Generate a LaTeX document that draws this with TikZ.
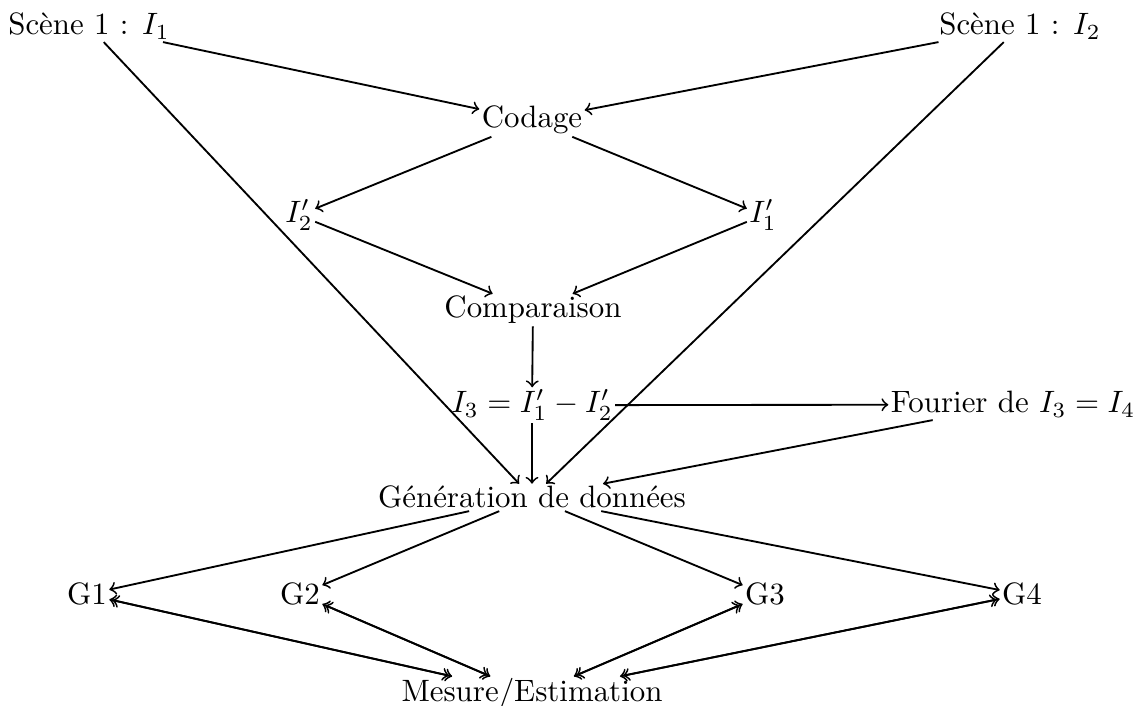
\documentclass[tikz,border=0pt]{standalone}
\begin{document}
\begin{tikzpicture}[x=0.3236pt,y=-0.3236pt,line width=0.6pt,
  lbl/.style={anchor=base,inner sep=0.5pt},
  arr/.style={->},
  dbl/.style={<->}]
\useasboundingbox (0,0) rectangle (1144,706);
\node[lbl] (s1) at (89,35) {Scène 1 : $I_1$};
\node[lbl] (s2) at (1020,35) {Scène 1 : $I_2$};
\node[lbl] (cod) at (532,128) {Codage};
\node[lbl] (i2) at (299,223) {$I_2'$};
\node[lbl] (i1) at (763,223) {$I_1'$};
\node[lbl] (cmp) at (533,318) {Comparaison};
\node[lbl] (i3) at (532,413) {$I_3 = I_1' - I_2'$};
\node[lbl] (four) at (1013,413) {Fourier de $I_3 = I_4$};
\node[lbl] (gen) at (532,508) {Génération de données};
\node[lbl] (g1) at (87,605) {G1};
\node[lbl] (g2) at (300,605) {G2};
\node[lbl] (g3) at (765,605) {G3};
\node[lbl] (g4) at (1022,605) {G4};
\node[lbl] (m) at (532,702) {Mesure/Estimation};

\draw[arr] (s1) -- (cod);
\draw[arr] (s2) -- (cod);
\draw[arr] (s1) -- (gen);
\draw[arr] (s2) -- (gen);
\draw[arr] (cod) -- (i2);
\draw[arr] (cod) -- (i1);
\draw[arr] (i2) -- (cmp);
\draw[arr] (i1) -- (cmp);
\draw[arr] (cmp) -- (i3);
\draw[arr] (i3) -- (gen);
\draw[arr] (i3) -- (four);
\draw[arr] (four) -- (gen);
\draw[arr] (gen) -- (g1);
\draw[arr] (gen) -- (g2);
\draw[arr] (gen) -- (g3);
\draw[arr] (gen) -- (g4);
\foreach \g in {g1,g2,g3,g4}{
  \draw[dbl] (\g) -- (m);
  \draw[dbl,shorten <=1pt,shorten >=1pt] (\g) -- (m);
}
\end{tikzpicture}
\end{document}
